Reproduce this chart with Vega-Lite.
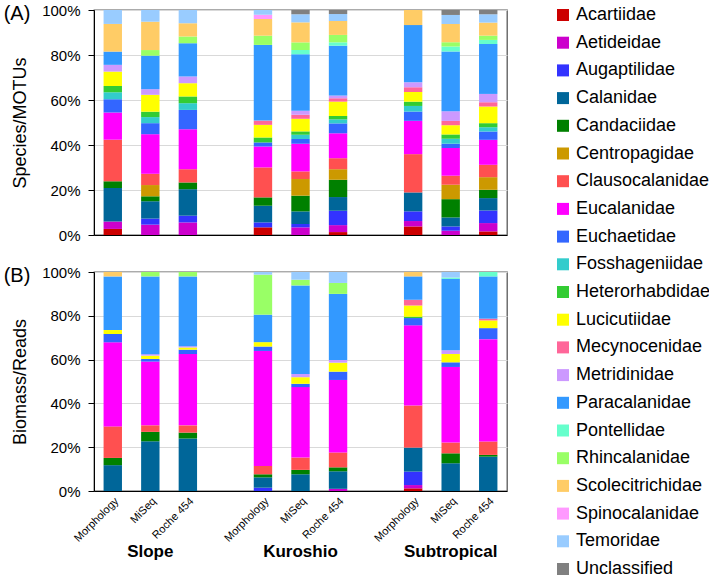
{
"$schema":"https://vega.github.io/schema/vega-lite/v6.json",
"padding":{"left":2,"top":2,"right":2,"bottom":8},
"config":{
 "font":"Liberation Sans",
 "view":{"stroke":"#595959","strokeWidth":1.3},
 "axis":{"labelFont":"Liberation Sans","titleFont":"Liberation Sans","labelColor":"#000","titleColor":"#000","domainColor":"#000","tickColor":"#000","gridColor":"#d9d9d9"},
 "title":{"fontSize":20,"fontWeight":"normal","anchor":"start","frame":"bounds","offset":-21,"dx":-8,"font":"Liberation Sans","color":"#000"},
 "legend":{"offset":50,"padding":-4,"symbolType":"square","symbolSize":144,"symbolStrokeWidth":0,"labelFontSize":18,"labelFont":"Liberation Sans","labelColor":"#000","rowPadding":9.7,"labelOffset":4,"labelLimit":300}
},
"datasets":{
"regions":[{"bar":"Slope|MiSeq","region":"Slope"},{"bar":"Kuroshio|MiSeq","region":"Kuroshio"},{"bar":"Subtropical|MiSeq","region":"Subtropical"}],
"comp":[
{"panel":"A","bar":"Slope|Morphology","family":"Acartiidae","pct":2.7},
{"panel":"A","bar":"Slope|Morphology","family":"Aetideidae","pct":3.3},
{"panel":"A","bar":"Slope|Morphology","family":"Calanidae","pct":14.9},
{"panel":"A","bar":"Slope|Morphology","family":"Candaciidae","pct":3.0},
{"panel":"A","bar":"Slope|Morphology","family":"Clausocalanidae","pct":18.5},
{"panel":"A","bar":"Slope|Morphology","family":"Eucalanidae","pct":12.1},
{"panel":"A","bar":"Slope|Morphology","family":"Euchaetidae","pct":5.9},
{"panel":"A","bar":"Slope|Morphology","family":"Fosshageniidae","pct":3.1},
{"panel":"A","bar":"Slope|Morphology","family":"Heterorhabdidae","pct":2.8},
{"panel":"A","bar":"Slope|Morphology","family":"Lucicutiidae","pct":6.4},
{"panel":"A","bar":"Slope|Morphology","family":"Metridinidae","pct":3.0},
{"panel":"A","bar":"Slope|Morphology","family":"Paracalanidae","pct":5.9},
{"panel":"A","bar":"Slope|Morphology","family":"Scolecitrichidae","pct":12.3},
{"panel":"A","bar":"Slope|Morphology","family":"Temoridae","pct":6.2},
{"panel":"A","bar":"Slope|MiSeq","family":"Aetideidae","pct":4.6},
{"panel":"A","bar":"Slope|MiSeq","family":"Augaptilidae","pct":2.7},
{"panel":"A","bar":"Slope|MiSeq","family":"Calanidae","pct":7.7},
{"panel":"A","bar":"Slope|MiSeq","family":"Candaciidae","pct":2.2},
{"panel":"A","bar":"Slope|MiSeq","family":"Centropagidae","pct":5.0},
{"panel":"A","bar":"Slope|MiSeq","family":"Clausocalanidae","pct":5.0},
{"panel":"A","bar":"Slope|MiSeq","family":"Eucalanidae","pct":17.6},
{"panel":"A","bar":"Slope|MiSeq","family":"Euchaetidae","pct":4.9},
{"panel":"A","bar":"Slope|MiSeq","family":"Fosshageniidae","pct":2.7},
{"panel":"A","bar":"Slope|MiSeq","family":"Heterorhabdidae","pct":2.4},
{"panel":"A","bar":"Slope|MiSeq","family":"Lucicutiidae","pct":7.5},
{"panel":"A","bar":"Slope|MiSeq","family":"Metridinidae","pct":2.5},
{"panel":"A","bar":"Slope|MiSeq","family":"Paracalanidae","pct":14.9},
{"panel":"A","bar":"Slope|MiSeq","family":"Rhincalanidae","pct":2.5},
{"panel":"A","bar":"Slope|MiSeq","family":"Scolecitrichidae","pct":12.6},
{"panel":"A","bar":"Slope|MiSeq","family":"Temoridae","pct":5.2},
{"panel":"A","bar":"Slope|Roche 454","family":"Aetideidae","pct":5.6},
{"panel":"A","bar":"Slope|Roche 454","family":"Augaptilidae","pct":3.0},
{"panel":"A","bar":"Slope|Roche 454","family":"Calanidae","pct":11.8},
{"panel":"A","bar":"Slope|Roche 454","family":"Candaciidae","pct":3.0},
{"panel":"A","bar":"Slope|Roche 454","family":"Clausocalanidae","pct":5.9},
{"panel":"A","bar":"Slope|Roche 454","family":"Eucalanidae","pct":17.8},
{"panel":"A","bar":"Slope|Roche 454","family":"Euchaetidae","pct":8.6},
{"panel":"A","bar":"Slope|Roche 454","family":"Fosshageniidae","pct":3.0},
{"panel":"A","bar":"Slope|Roche 454","family":"Heterorhabdidae","pct":3.0},
{"panel":"A","bar":"Slope|Roche 454","family":"Lucicutiidae","pct":5.9},
{"panel":"A","bar":"Slope|Roche 454","family":"Metridinidae","pct":3.0},
{"panel":"A","bar":"Slope|Roche 454","family":"Paracalanidae","pct":14.8},
{"panel":"A","bar":"Slope|Roche 454","family":"Rhincalanidae","pct":3.0},
{"panel":"A","bar":"Slope|Roche 454","family":"Scolecitrichidae","pct":5.9},
{"panel":"A","bar":"Slope|Roche 454","family":"Temoridae","pct":5.9},
{"panel":"A","bar":"Kuroshio|Morphology","family":"Acartiidae","pct":3.4},
{"panel":"A","bar":"Kuroshio|Morphology","family":"Augaptilidae","pct":2.2},
{"panel":"A","bar":"Kuroshio|Morphology","family":"Calanidae","pct":7.4},
{"panel":"A","bar":"Kuroshio|Morphology","family":"Candaciidae","pct":3.7},
{"panel":"A","bar":"Kuroshio|Morphology","family":"Clausocalanidae","pct":13.3},
{"panel":"A","bar":"Kuroshio|Morphology","family":"Eucalanidae","pct":9.3},
{"panel":"A","bar":"Kuroshio|Morphology","family":"Euchaetidae","pct":1.8},
{"panel":"A","bar":"Kuroshio|Morphology","family":"Heterorhabdidae","pct":2.2},
{"panel":"A","bar":"Kuroshio|Morphology","family":"Lucicutiidae","pct":5.6},
{"panel":"A","bar":"Kuroshio|Morphology","family":"Mecynocenidae","pct":1.9},
{"panel":"A","bar":"Kuroshio|Morphology","family":"Paracalanidae","pct":33.6},
{"panel":"A","bar":"Kuroshio|Morphology","family":"Rhincalanidae","pct":4.1},
{"panel":"A","bar":"Kuroshio|Morphology","family":"Scolecitrichidae","pct":7.4},
{"panel":"A","bar":"Kuroshio|Morphology","family":"Spinocalanidae","pct":1.9},
{"panel":"A","bar":"Kuroshio|Morphology","family":"Temoridae","pct":2.1},
{"panel":"A","bar":"Kuroshio|MiSeq","family":"Aetideidae","pct":3.4},
{"panel":"A","bar":"Kuroshio|MiSeq","family":"Augaptilidae","pct":1.5},
{"panel":"A","bar":"Kuroshio|MiSeq","family":"Calanidae","pct":5.6},
{"panel":"A","bar":"Kuroshio|MiSeq","family":"Candaciidae","pct":7.0},
{"panel":"A","bar":"Kuroshio|MiSeq","family":"Centropagidae","pct":7.4},
{"panel":"A","bar":"Kuroshio|MiSeq","family":"Clausocalanidae","pct":3.4},
{"panel":"A","bar":"Kuroshio|MiSeq","family":"Eucalanidae","pct":12.3},
{"panel":"A","bar":"Kuroshio|MiSeq","family":"Euchaetidae","pct":2.1},
{"panel":"A","bar":"Kuroshio|MiSeq","family":"Fosshageniidae","pct":1.9},
{"panel":"A","bar":"Kuroshio|MiSeq","family":"Heterorhabdidae","pct":1.5},
{"panel":"A","bar":"Kuroshio|MiSeq","family":"Lucicutiidae","pct":5.6},
{"panel":"A","bar":"Kuroshio|MiSeq","family":"Mecynocenidae","pct":1.8},
{"panel":"A","bar":"Kuroshio|MiSeq","family":"Metridinidae","pct":1.8},
{"panel":"A","bar":"Kuroshio|MiSeq","family":"Paracalanidae","pct":25.1},
{"panel":"A","bar":"Kuroshio|MiSeq","family":"Pontellidae","pct":1.9},
{"panel":"A","bar":"Kuroshio|MiSeq","family":"Rhincalanidae","pct":3.4},
{"panel":"A","bar":"Kuroshio|MiSeq","family":"Scolecitrichidae","pct":8.9},
{"panel":"A","bar":"Kuroshio|MiSeq","family":"Temoridae","pct":3.6},
{"panel":"A","bar":"Kuroshio|MiSeq","family":"Unclassified","pct":1.9},
{"panel":"A","bar":"Kuroshio|Roche 454","family":"Acartiidae","pct":1.3},
{"panel":"A","bar":"Kuroshio|Roche 454","family":"Aetideidae","pct":3.1},
{"panel":"A","bar":"Kuroshio|Roche 454","family":"Augaptilidae","pct":6.4},
{"panel":"A","bar":"Kuroshio|Roche 454","family":"Calanidae","pct":6.1},
{"panel":"A","bar":"Kuroshio|Roche 454","family":"Candaciidae","pct":7.7},
{"panel":"A","bar":"Kuroshio|Roche 454","family":"Centropagidae","pct":4.7},
{"panel":"A","bar":"Kuroshio|Roche 454","family":"Clausocalanidae","pct":4.9},
{"panel":"A","bar":"Kuroshio|Roche 454","family":"Eucalanidae","pct":11.1},
{"panel":"A","bar":"Kuroshio|Roche 454","family":"Euchaetidae","pct":4.4},
{"panel":"A","bar":"Kuroshio|Roche 454","family":"Fosshageniidae","pct":1.8},
{"panel":"A","bar":"Kuroshio|Roche 454","family":"Heterorhabdidae","pct":1.5},
{"panel":"A","bar":"Kuroshio|Roche 454","family":"Lucicutiidae","pct":6.4},
{"panel":"A","bar":"Kuroshio|Roche 454","family":"Mecynocenidae","pct":1.5},
{"panel":"A","bar":"Kuroshio|Roche 454","family":"Metridinidae","pct":1.2},
{"panel":"A","bar":"Kuroshio|Roche 454","family":"Paracalanidae","pct":22.2},
{"panel":"A","bar":"Kuroshio|Roche 454","family":"Pontellidae","pct":1.5},
{"panel":"A","bar":"Kuroshio|Roche 454","family":"Rhincalanidae","pct":3.3},
{"panel":"A","bar":"Kuroshio|Roche 454","family":"Scolecitrichidae","pct":6.2},
{"panel":"A","bar":"Kuroshio|Roche 454","family":"Temoridae","pct":3.1},
{"panel":"A","bar":"Kuroshio|Roche 454","family":"Unclassified","pct":1.8},
{"panel":"A","bar":"Subtropical|Morphology","family":"Acartiidae","pct":3.8},
{"panel":"A","bar":"Subtropical|Morphology","family":"Aetideidae","pct":2.4},
{"panel":"A","bar":"Subtropical|Morphology","family":"Augaptilidae","pct":4.3},
{"panel":"A","bar":"Subtropical|Morphology","family":"Calanidae","pct":8.4},
{"panel":"A","bar":"Subtropical|Morphology","family":"Clausocalanidae","pct":17.0},
{"panel":"A","bar":"Subtropical|Morphology","family":"Eucalanidae","pct":14.8},
{"panel":"A","bar":"Subtropical|Morphology","family":"Euchaetidae","pct":4.1},
{"panel":"A","bar":"Subtropical|Morphology","family":"Fosshageniidae","pct":2.5},
{"panel":"A","bar":"Subtropical|Morphology","family":"Heterorhabdidae","pct":1.9},
{"panel":"A","bar":"Subtropical|Morphology","family":"Lucicutiidae","pct":4.3},
{"panel":"A","bar":"Subtropical|Morphology","family":"Mecynocenidae","pct":2.1},
{"panel":"A","bar":"Subtropical|Morphology","family":"Metridinidae","pct":2.2},
{"panel":"A","bar":"Subtropical|Morphology","family":"Paracalanidae","pct":25.4},
{"panel":"A","bar":"Subtropical|Morphology","family":"Scolecitrichidae","pct":6.7},
{"panel":"A","bar":"Subtropical|MiSeq","family":"Aetideidae","pct":1.9},
{"panel":"A","bar":"Subtropical|MiSeq","family":"Augaptilidae","pct":1.9},
{"panel":"A","bar":"Subtropical|MiSeq","family":"Calanidae","pct":4.0},
{"panel":"A","bar":"Subtropical|MiSeq","family":"Candaciidae","pct":8.1},
{"panel":"A","bar":"Subtropical|MiSeq","family":"Centropagidae","pct":6.4},
{"panel":"A","bar":"Subtropical|MiSeq","family":"Clausocalanidae","pct":4.0},
{"panel":"A","bar":"Subtropical|MiSeq","family":"Eucalanidae","pct":12.3},
{"panel":"A","bar":"Subtropical|MiSeq","family":"Euchaetidae","pct":1.9},
{"panel":"A","bar":"Subtropical|MiSeq","family":"Fosshageniidae","pct":2.2},
{"panel":"A","bar":"Subtropical|MiSeq","family":"Heterorhabdidae","pct":1.9},
{"panel":"A","bar":"Subtropical|MiSeq","family":"Lucicutiidae","pct":4.1},
{"panel":"A","bar":"Subtropical|MiSeq","family":"Mecynocenidae","pct":1.9},
{"panel":"A","bar":"Subtropical|MiSeq","family":"Metridinidae","pct":4.3},
{"panel":"A","bar":"Subtropical|MiSeq","family":"Paracalanidae","pct":26.5},
{"panel":"A","bar":"Subtropical|MiSeq","family":"Pontellidae","pct":2.2},
{"panel":"A","bar":"Subtropical|MiSeq","family":"Rhincalanidae","pct":1.9},
{"panel":"A","bar":"Subtropical|MiSeq","family":"Scolecitrichidae","pct":8.1},
{"panel":"A","bar":"Subtropical|MiSeq","family":"Temoridae","pct":4.0},
{"panel":"A","bar":"Subtropical|MiSeq","family":"Unclassified","pct":2.2},
{"panel":"A","bar":"Subtropical|Roche 454","family":"Acartiidae","pct":1.6},
{"panel":"A","bar":"Subtropical|Roche 454","family":"Aetideidae","pct":3.7},
{"panel":"A","bar":"Subtropical|Roche 454","family":"Augaptilidae","pct":5.6},
{"panel":"A","bar":"Subtropical|Roche 454","family":"Calanidae","pct":5.5},
{"panel":"A","bar":"Subtropical|Roche 454","family":"Candaciidae","pct":3.7},
{"panel":"A","bar":"Subtropical|Roche 454","family":"Centropagidae","pct":5.6},
{"panel":"A","bar":"Subtropical|Roche 454","family":"Clausocalanidae","pct":5.5},
{"panel":"A","bar":"Subtropical|Roche 454","family":"Eucalanidae","pct":11.1},
{"panel":"A","bar":"Subtropical|Roche 454","family":"Euchaetidae","pct":3.7},
{"panel":"A","bar":"Subtropical|Roche 454","family":"Fosshageniidae","pct":1.9},
{"panel":"A","bar":"Subtropical|Roche 454","family":"Heterorhabdidae","pct":1.8},
{"panel":"A","bar":"Subtropical|Roche 454","family":"Lucicutiidae","pct":7.4},
{"panel":"A","bar":"Subtropical|Roche 454","family":"Mecynocenidae","pct":1.9},
{"panel":"A","bar":"Subtropical|Roche 454","family":"Metridinidae","pct":3.7},
{"panel":"A","bar":"Subtropical|Roche 454","family":"Paracalanidae","pct":22.2},
{"panel":"A","bar":"Subtropical|Roche 454","family":"Pontellidae","pct":1.8},
{"panel":"A","bar":"Subtropical|Roche 454","family":"Rhincalanidae","pct":1.9},
{"panel":"A","bar":"Subtropical|Roche 454","family":"Scolecitrichidae","pct":5.8},
{"panel":"A","bar":"Subtropical|Roche 454","family":"Temoridae","pct":3.7},
{"panel":"A","bar":"Subtropical|Roche 454","family":"Unclassified","pct":1.9},
{"panel":"B","bar":"Slope|Morphology","family":"Calanidae","pct":11.8},
{"panel":"B","bar":"Slope|Morphology","family":"Candaciidae","pct":3.3},
{"panel":"B","bar":"Slope|Morphology","family":"Clausocalanidae","pct":14.4},
{"panel":"B","bar":"Slope|Morphology","family":"Eucalanidae","pct":38.4},
{"panel":"B","bar":"Slope|Morphology","family":"Euchaetidae","pct":3.8},
{"panel":"B","bar":"Slope|Morphology","family":"Lucicutiidae","pct":1.8},
{"panel":"B","bar":"Slope|Morphology","family":"Paracalanidae","pct":24.5},
{"panel":"B","bar":"Slope|Morphology","family":"Scolecitrichidae","pct":2.0},
{"panel":"B","bar":"Slope|MiSeq","family":"Calanidae","pct":22.7},
{"panel":"B","bar":"Slope|MiSeq","family":"Candaciidae","pct":4.3},
{"panel":"B","bar":"Slope|MiSeq","family":"Clausocalanidae","pct":3.0},
{"panel":"B","bar":"Slope|MiSeq","family":"Eucalanidae","pct":29.1},
{"panel":"B","bar":"Slope|MiSeq","family":"Euchaetidae","pct":1.2},
{"panel":"B","bar":"Slope|MiSeq","family":"Lucicutiidae","pct":1.5},
{"panel":"B","bar":"Slope|MiSeq","family":"Metridinidae","pct":0.7},
{"panel":"B","bar":"Slope|MiSeq","family":"Paracalanidae","pct":35.5},
{"panel":"B","bar":"Slope|MiSeq","family":"Rhincalanidae","pct":2.0},
{"panel":"B","bar":"Slope|Roche 454","family":"Calanidae","pct":24.0},
{"panel":"B","bar":"Slope|Roche 454","family":"Candaciidae","pct":2.7},
{"panel":"B","bar":"Slope|Roche 454","family":"Clausocalanidae","pct":3.3},
{"panel":"B","bar":"Slope|Roche 454","family":"Eucalanidae","pct":32.6},
{"panel":"B","bar":"Slope|Roche 454","family":"Euchaetidae","pct":2.0},
{"panel":"B","bar":"Slope|Roche 454","family":"Lucicutiidae","pct":1.0},
{"panel":"B","bar":"Slope|Roche 454","family":"Metridinidae","pct":0.6},
{"panel":"B","bar":"Slope|Roche 454","family":"Paracalanidae","pct":31.9},
{"panel":"B","bar":"Slope|Roche 454","family":"Rhincalanidae","pct":2.0},
{"panel":"B","bar":"Kuroshio|Morphology","family":"Augaptilidae","pct":1.5},
{"panel":"B","bar":"Kuroshio|Morphology","family":"Calanidae","pct":4.7},
{"panel":"B","bar":"Kuroshio|Morphology","family":"Candaciidae","pct":1.4},
{"panel":"B","bar":"Kuroshio|Morphology","family":"Clausocalanidae","pct":3.8},
{"panel":"B","bar":"Kuroshio|Morphology","family":"Eucalanidae","pct":52.3},
{"panel":"B","bar":"Kuroshio|Morphology","family":"Euchaetidae","pct":2.0},
{"panel":"B","bar":"Kuroshio|Morphology","family":"Lucicutiidae","pct":2.0},
{"panel":"B","bar":"Kuroshio|Morphology","family":"Paracalanidae","pct":12.5},
{"panel":"B","bar":"Kuroshio|Morphology","family":"Rhincalanidae","pct":18.2},
{"panel":"B","bar":"Kuroshio|Morphology","family":"Temoridae","pct":1.2},
{"panel":"B","bar":"Kuroshio|MiSeq","family":"Calanidae","pct":7.6},
{"panel":"B","bar":"Kuroshio|MiSeq","family":"Candaciidae","pct":2.0},
{"panel":"B","bar":"Kuroshio|MiSeq","family":"Clausocalanidae","pct":5.6},
{"panel":"B","bar":"Kuroshio|MiSeq","family":"Eucalanidae","pct":32.0},
{"panel":"B","bar":"Kuroshio|MiSeq","family":"Euchaetidae","pct":1.5},
{"panel":"B","bar":"Kuroshio|MiSeq","family":"Lucicutiidae","pct":3.0},
{"panel":"B","bar":"Kuroshio|MiSeq","family":"Metridinidae","pct":1.5},
{"panel":"B","bar":"Kuroshio|MiSeq","family":"Paracalanidae","pct":40.2},
{"panel":"B","bar":"Kuroshio|MiSeq","family":"Rhincalanidae","pct":2.6},
{"panel":"B","bar":"Kuroshio|MiSeq","family":"Temoridae","pct":3.5},
{"panel":"B","bar":"Kuroshio|Roche 454","family":"Aetideidae","pct":1.0},
{"panel":"B","bar":"Kuroshio|Roche 454","family":"Calanidae","pct":8.0},
{"panel":"B","bar":"Kuroshio|Roche 454","family":"Candaciidae","pct":1.8},
{"panel":"B","bar":"Kuroshio|Roche 454","family":"Clausocalanidae","pct":6.8},
{"panel":"B","bar":"Kuroshio|Roche 454","family":"Eucalanidae","pct":33.1},
{"panel":"B","bar":"Kuroshio|Roche 454","family":"Euchaetidae","pct":3.8},
{"panel":"B","bar":"Kuroshio|Roche 454","family":"Lucicutiidae","pct":4.1},
{"panel":"B","bar":"Kuroshio|Roche 454","family":"Metridinidae","pct":1.2},
{"panel":"B","bar":"Kuroshio|Roche 454","family":"Paracalanidae","pct":30.2},
{"panel":"B","bar":"Kuroshio|Roche 454","family":"Rhincalanidae","pct":5.0},
{"panel":"B","bar":"Kuroshio|Roche 454","family":"Temoridae","pct":5.0},
{"panel":"B","bar":"Subtropical|Morphology","family":"Acartiidae","pct":1.2},
{"panel":"B","bar":"Subtropical|Morphology","family":"Aetideidae","pct":1.5},
{"panel":"B","bar":"Subtropical|Morphology","family":"Augaptilidae","pct":6.1},
{"panel":"B","bar":"Subtropical|Morphology","family":"Calanidae","pct":10.9},
{"panel":"B","bar":"Subtropical|Morphology","family":"Clausocalanidae","pct":19.1},
{"panel":"B","bar":"Subtropical|Morphology","family":"Eucalanidae","pct":36.4},
{"panel":"B","bar":"Subtropical|Morphology","family":"Euchaetidae","pct":3.3},
{"panel":"B","bar":"Subtropical|Morphology","family":"Heterorhabdidae","pct":0.6},
{"panel":"B","bar":"Subtropical|Morphology","family":"Lucicutiidae","pct":5.1},
{"panel":"B","bar":"Subtropical|Morphology","family":"Mecynocenidae","pct":2.6},
{"panel":"B","bar":"Subtropical|Morphology","family":"Paracalanidae","pct":10.6},
{"panel":"B","bar":"Subtropical|Morphology","family":"Scolecitrichidae","pct":2.0},
{"panel":"B","bar":"Subtropical|MiSeq","family":"Calanidae","pct":12.6},
{"panel":"B","bar":"Subtropical|MiSeq","family":"Candaciidae","pct":4.5},
{"panel":"B","bar":"Subtropical|MiSeq","family":"Clausocalanidae","pct":4.9},
{"panel":"B","bar":"Subtropical|MiSeq","family":"Eucalanidae","pct":34.3},
{"panel":"B","bar":"Subtropical|MiSeq","family":"Euchaetidae","pct":2.1},
{"panel":"B","bar":"Subtropical|MiSeq","family":"Lucicutiidae","pct":3.8},
{"panel":"B","bar":"Subtropical|MiSeq","family":"Metridinidae","pct":1.7},
{"panel":"B","bar":"Subtropical|MiSeq","family":"Paracalanidae","pct":32.4},
{"panel":"B","bar":"Subtropical|MiSeq","family":"Pontellidae","pct":0.6},
{"panel":"B","bar":"Subtropical|MiSeq","family":"Temoridae","pct":2.5},
{"panel":"B","bar":"Subtropical|Roche 454","family":"Calanidae","pct":15.6},
{"panel":"B","bar":"Subtropical|Roche 454","family":"Candaciidae","pct":0.8},
{"panel":"B","bar":"Subtropical|Roche 454","family":"Clausocalanidae","pct":6.1},
{"panel":"B","bar":"Subtropical|Roche 454","family":"Eucalanidae","pct":46.5},
{"panel":"B","bar":"Subtropical|Roche 454","family":"Euchaetidae","pct":5.0},
{"panel":"B","bar":"Subtropical|Roche 454","family":"Lucicutiidae","pct":3.5},
{"panel":"B","bar":"Subtropical|Roche 454","family":"Mecynocenidae","pct":0.8},
{"panel":"B","bar":"Subtropical|Roche 454","family":"Paracalanidae","pct":19.2},
{"panel":"B","bar":"Subtropical|Roche 454","family":"Pontellidae","pct":2.0}
]},
"spacing":20,
"vconcat":[
{
 "width":413,"height":225,
 "title":{"text":"(A)"},
 "data":{"name":"comp"},
 "transform":[{"filter":"datum.panel == 'A'"}],
 "mark":{"type":"bar"},
 "encoding":{
  "x":{"field":"bar","type":"nominal","scale":{"domain":["Slope|Morphology","Slope|MiSeq","Slope|Roche 454","gap1","Kuroshio|Morphology","Kuroshio|MiSeq","Kuroshio|Roche 454","gap2","Subtropical|Morphology","Subtropical|MiSeq","Subtropical|Roche 454"],"paddingInner":0.51,"paddingOuter":0.255},"axis":{"title":null,"labels":false,"ticks":false}},
  "y":{"field":"pct","type":"quantitative","stack":"normalize","axis":{"title":"Species/MOTUs","format":".0%","values":[0,0.2,0.4,0.6,0.8,1],"labelFontSize":15,"titleFontSize":18,"titleFontWeight":"normal","tickSize":6,"labelPadding":8,"titlePadding":12}},
  "color":{"field":"family","type":"nominal","title":null,
   "scale":{"domain":["Acartiidae","Aetideidae","Augaptilidae","Calanidae","Candaciidae","Centropagidae","Clausocalanidae","Eucalanidae","Euchaetidae","Fosshageniidae","Heterorhabdidae","Lucicutiidae","Mecynocenidae","Metridinidae","Paracalanidae","Pontellidae","Rhincalanidae","Scolecitrichidae","Spinocalanidae","Temoridae","Unclassified"],
   "range":["#cc0000","#cc00cc","#3333ff","#006699","#008000","#cc9900","#ff5050","#ff00ff","#3366ff","#33cccc","#33cc33","#ffff00","#ff6699","#cc99ff","#3399ff","#66ffcc","#99ff66","#ffcc66","#ff99ff","#99ccff","#808080"]}},
  "order":{"field":"family","sort":"ascending"}
 }
},
{
 "width":413,"height":219,
 "title":{"text":"(B)"},
 "layer":[
 {
 "data":{"name":"comp"},
 "transform":[{"filter":"datum.panel == 'B'"}],
 "mark":{"type":"bar"},
 "encoding":{
  "x":{"field":"bar","type":"nominal","scale":{"domain":["Slope|Morphology","Slope|MiSeq","Slope|Roche 454","gap1","Kuroshio|Morphology","Kuroshio|MiSeq","Kuroshio|Roche 454","gap2","Subtropical|Morphology","Subtropical|MiSeq","Subtropical|Roche 454"],"paddingInner":0.51,"paddingOuter":0.255},"axis":{"title":null,"ticks":false,"labelAngle":-45,"labelFontSize":11,"labelPadding":4,"labelExpr":"indexof(datum.value, '|') >= 0 ? split(datum.value, '|')[1] : ''"}},
  "y":{"field":"pct","type":"quantitative","stack":"normalize","scale":{"domain":[0,1]},"axis":{"title":"Biomass/Reads","format":".0%","values":[0,0.2,0.4,0.6,0.8,1],"labelFontSize":15,"titleFontSize":18,"titleFontWeight":"normal","tickSize":6,"labelPadding":8,"titlePadding":12}},
  "color":{"field":"family","type":"nominal","title":null,
   "scale":{"domain":["Acartiidae","Aetideidae","Augaptilidae","Calanidae","Candaciidae","Centropagidae","Clausocalanidae","Eucalanidae","Euchaetidae","Fosshageniidae","Heterorhabdidae","Lucicutiidae","Mecynocenidae","Metridinidae","Paracalanidae","Pontellidae","Rhincalanidae","Scolecitrichidae","Spinocalanidae","Temoridae","Unclassified"],
   "range":["#cc0000","#cc00cc","#3333ff","#006699","#008000","#cc9900","#ff5050","#ff00ff","#3366ff","#33cccc","#33cc33","#ffff00","#ff6699","#cc99ff","#3399ff","#66ffcc","#99ff66","#ffcc66","#ff99ff","#99ccff","#808080"]}},
  "order":{"field":"family","sort":"ascending"}
 }
 },
 {
 "data":{"name":"regions"},
 "mark":{"type":"text","fontSize":17,"fontWeight":"bold","color":"#000"},
 "encoding":{
  "x":{"field":"bar","type":"nominal"},
  "y":{"datum":-0.28,"type":"quantitative"},
  "text":{"field":"region"}
 }
 }
 ]
}
]
}
